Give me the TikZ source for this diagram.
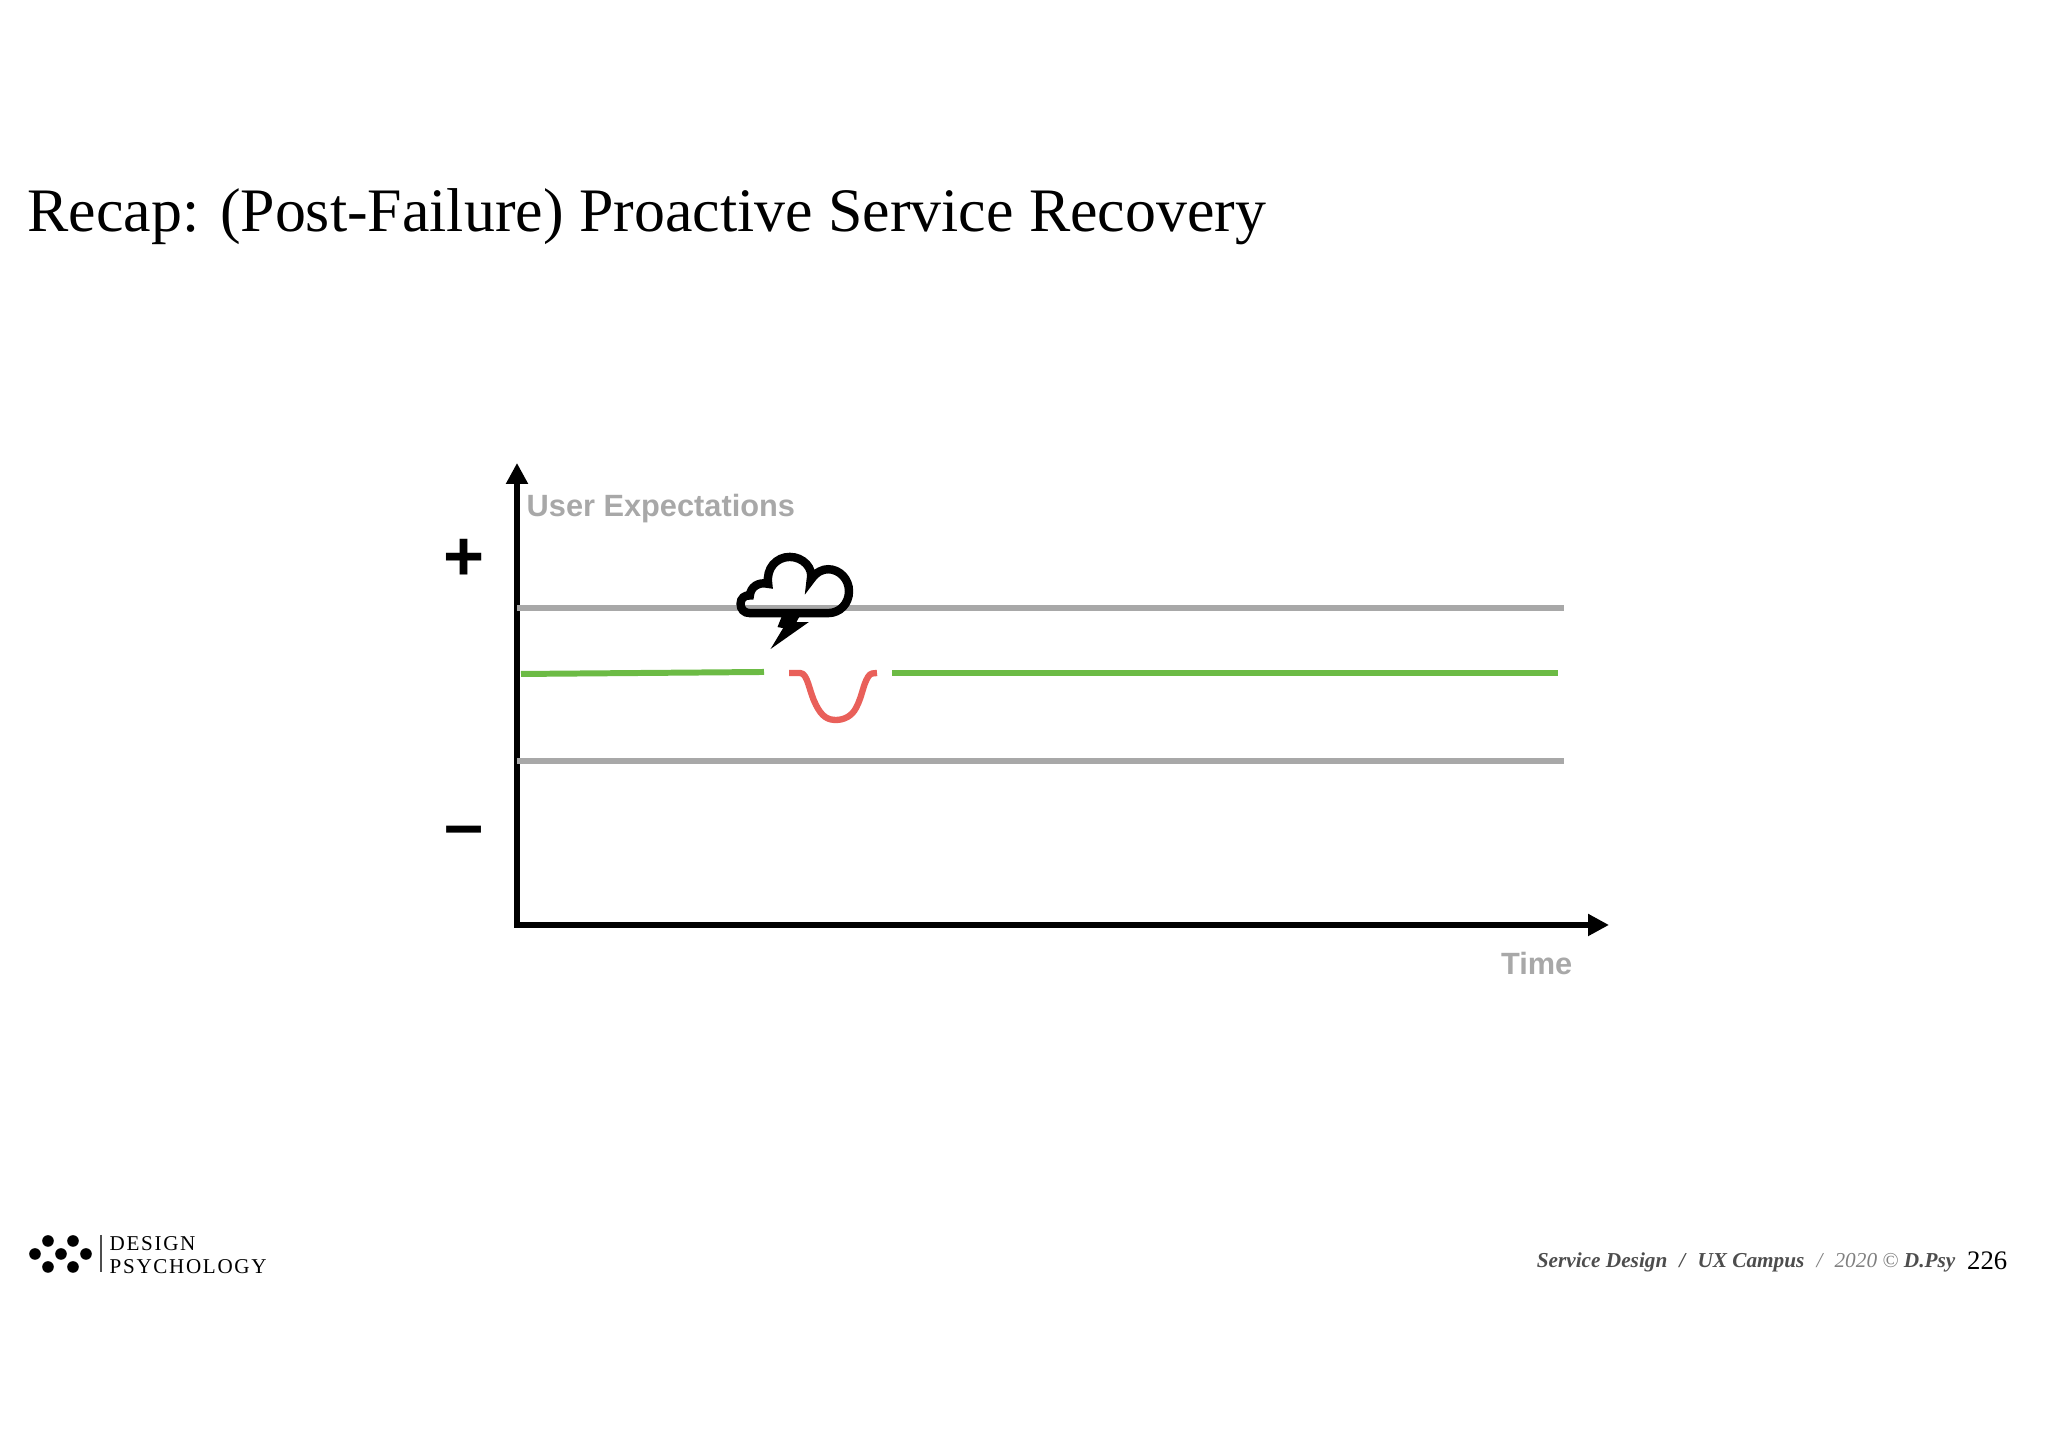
\documentclass[tikz,border=0pt]{standalone}
\usepackage{fontspec}
\setmainfont{Liberation Serif}
\setsansfont{Liberation Sans}
\usetikzlibrary{arrows.meta}
\definecolor{axisgrey}{HTML}{A8A8A8}
\definecolor{linegreen}{HTML}{6CBB45}
\definecolor{dipred}{HTML}{E9605A}
\definecolor{footgrey}{HTML}{4D4D4D}
\tikzset{
  axis/.style={line width=1.45pt,{Triangle[length=2.1mm,width=2.1mm]}-{Triangle[length=2.1mm,width=2.1mm]}},
  level/.style={line width=1.6pt,axisgrey},
  expected/.style={line width=1.7pt,linegreen},
  caption/.style={inner sep=0,anchor=base west,font=\sffamily\bfseries\fontsize{8.75}{10}\selectfont,axisgrey},
  sign/.style={inner sep=0,font=\sffamily\bfseries\fontsize{20}{24}\selectfont}
}
\newcommand{\footsep}{\hspace{3.45pt}/\hspace{3.45pt}}
\begin{document}
\begin{tikzpicture}
\useasboundingbox (0,0) rectangle (20.48,14.47);

%% The title
\node [inner sep=0,anchor=base west] (title) at (0.27,12.15) {\fontsize{17.6}{20}\selectfont Recap: (Post-Failure) Proactive Service Recovery};

%% The axes
\coordinate (ytop) at (5.17,9.84);
\coordinate (origin) at (5.17,5.22);
\coordinate (xend) at (16.09,5.22);
\draw [axis] (ytop) -- (origin) -- (xend);
\node [caption] (userexp) at (5.26,9.30) {User Expectations};
\node [caption,anchor=base east] (time) at (15.73,4.72) {Time};
\node [sign] (plus) at (4.64,8.87) {+};
\node [sign] (minus) at (4.64,6.10) {\textendash};

%% The grey levels
\draw [level] (5.17,8.39) -- (15.64,8.39);
\draw [level] (5.17,6.86) -- (15.64,6.86);

%% The green line, broken at the failure
\draw [expected] (5.21,7.73) -- (7.64,7.75);
\draw [expected] (8.92,7.74) -- (15.58,7.74);

%% The red dip
\draw [line width=1.8pt,dipred,line join=round] (7.89,7.74) -- (8.0,7.74)
  .. controls (8.08,7.74) and (8.09,7.55) .. (8.16,7.42)
  .. controls (8.22,7.30) and (8.28,7.27) .. (8.36,7.27)
  .. controls (8.44,7.27) and (8.52,7.31) .. (8.56,7.39)
  .. controls (8.62,7.50) and (8.63,7.62) .. (8.68,7.70)
  .. controls (8.70,7.74) and (8.74,7.74) .. (8.77,7.74);

%% The cloud with its bolt
\begin{scope}[shift={(7.0,9.17)},x=0.003333cm,y=-0.003333cm]
\draw [line width=2.4pt,line join=miter]
  (150,250) .. controls (132,250) and (122,238) .. (122,222)
  .. controls (122,205) and (135,195) .. (150,197)
  .. controls (152,172) and (175,155) .. (205,162)
  .. controls (198,115) and (230,81) .. (270,81)
  .. controls (310,81) and (342,115) .. (333,150)
  .. controls (350,125) and (370,118) .. (385,118)
  .. controls (420,118) and (448,148) .. (448,184)
  .. controls (448,222) and (420,250) .. (385,250) -- cycle;
\fill (245,262) -- (298,262) -- (290,277) -- (327,277) -- (212,358) -- (250,295) -- (233,292) -- cycle;
\end{scope}

%% The logo
\foreach \dotx/\doty in {0.48/12.41,0.73/12.41,0.35/12.54,0.61/12.54,0.86/12.54,0.48/12.67,0.73/12.67}
  \fill (\dotx,14.47-\doty) circle (0.058);
\draw [line width=0.3pt,footgrey] (1.01,2.12) -- (1.01,1.75);
\node [inner sep=0,anchor=base west] (design) at (1.09,1.96) {\fontsize{6}{8}\selectfont\addfontfeatures{LetterSpace=8}DESIGN};
\node [inner sep=0,anchor=base west] (psychology) at (1.09,1.73) {\fontsize{6}{8}\selectfont\addfontfeatures{LetterSpace=8}PSYCHOLOGY};

%% The footer
\node [inner sep=0,anchor=base east,text=footgrey] (footer) at (19.56,1.79) {\fontsize{6.05}{7}\selectfont\bfseries\itshape Service Design\footsep UX Campus{\mdseries\color{gray}\footsep 2020 ©}\ D.Psy};
\node [inner sep=0,anchor=base east] (page) at (20.08,1.77) {\fontsize{7.6}{9}\selectfont 226};

\end{tikzpicture}
\end{document}
